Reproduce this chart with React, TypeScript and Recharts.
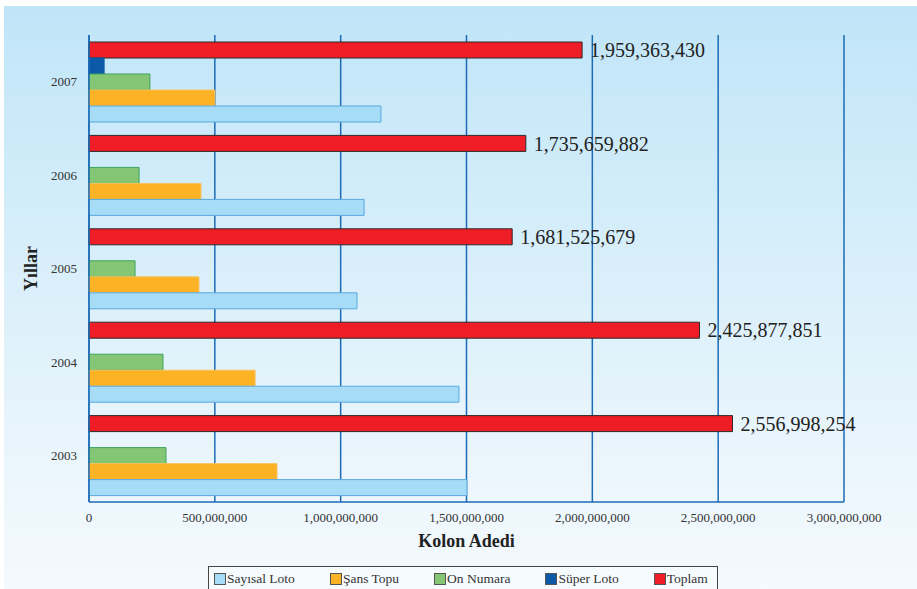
import { BarChart, Bar, XAxis, YAxis, CartesianGrid, LabelList } from "recharts";

const years = ["2007", "2006", "2005", "2004", "2003"];
const sayisalLoto = [1160e6, 1093e6, 1065e6, 1470e6, 1502e6];
const sansTopu = [500e6, 445e6, 437e6, 660e6, 747e6];
const onNumara = [242e6, 199e6, 183e6, 294e6, 306e6];
const superLoto = [60e6, 0, 0, 0, 0];
const toplam = [1959363430, 1735659882, 1681525679, 2425877851, 2556998254];
const xTicks = [0, 5e8, 1e9, 1.5e9, 2e9, 2.5e9, 3e9];

const data = years.map((y, i) => ({
  year: y,
  sayisal: sayisalLoto[i],
  sans: sansTopu[i],
  onNumara: onNumara[i],
  superLoto: superLoto[i],
  toplam: toplam[i],
}));

const series = [
  { key: "sayisal", name: "Sayısal Loto", fill: "#a6dcf6", stroke: "#5aa8de" },
  { key: "sans", name: "Şans Topu", fill: "#fbb225", stroke: "#f7c461" },
  { key: "onNumara", name: "On Numara", fill: "#85c674", stroke: "#3ea25c" },
  { key: "superLoto", name: "Süper Loto", fill: "#0a5aa8", stroke: "#0a5aa8" },
  { key: "toplam", name: "Toplam", fill: "#ee1d26", stroke: "#2b2b2b" },
];

const serif = '"Liberation Serif", "Times New Roman", serif';
const gridBlue = "#1c6bb6";
const fmt = (v: number) => Number(v).toLocaleString("en-US");

export default function App() {
  // bars are placed top-down in the band, so draw in reverse legend order
  const drawOrder = [...series].reverse();
  return (
    <div
      style={{
        position: "fixed",
        left: 0,
        top: 0,
        width: 917,
        height: 589,
        background: "#fff",
        overflow: "hidden",
        fontFamily: serif,
      }}
    >
      <div
        style={{
          position: "absolute",
          left: 4,
          top: 6,
          right: 0,
          bottom: 0,
          background: "linear-gradient(180deg, #c0e5f8 0%, #d6eefa 40%, #e9f5fc 75%, #f4fafd 100%)",
        }}
      />
      <div style={{ position: "absolute", left: 0, top: 0 }}>
        <BarChart
          width={917}
          height={589}
          data={data}
          layout="vertical"
          margin={{ top: 35, right: 73, bottom: 57, left: 29 }}
          barSize={16}
          barGap={0}
          style={{ fontFamily: serif }}
        >
          <CartesianGrid horizontal={false} stroke={gridBlue} strokeWidth={1.5} />
          <XAxis
            type="number"
            domain={[0, 3e9]}
            ticks={xTicks}
            tickFormatter={fmt}
            axisLine={{ stroke: gridBlue, strokeWidth: 1.5 }}
            tickLine={false}
            tickMargin={5}
            tick={{ fill: "#333", fontSize: 13, fontFamily: serif }}
            label={{
              value: "Kolon Adedi",
              position: "bottom",
              offset: 2,
              fill: "#222",
              fontSize: 18,
              fontWeight: "bold",
              fontFamily: serif,
            }}
          />
          <YAxis
            type="category"
            dataKey="year"
            width={60}
            axisLine={{ stroke: gridBlue, strokeWidth: 1.5 }}
            tickLine={false}
            tickMargin={6}
            tick={{ fill: "#333", fontSize: 13, fontFamily: serif }}
            label={{
              value: "Yıllar",
              angle: -90,
              position: "insideLeft",
              offset: 2,
              textAnchor: "middle",
              style: { textAnchor: "middle" },
              fill: "#222",
              fontSize: 18,
              fontWeight: "bold",
              fontFamily: serif,
            }}
          />
          {drawOrder.map((s) => (
            <Bar
              key={s.key}
              dataKey={s.key}
              name={s.name}
              fill={s.fill}
              stroke={s.stroke}
              strokeWidth={1}
              isAnimationActive={false}
            >
              {s.key === "toplam" && (
                <LabelList
                  dataKey="toplam"
                  position="right"
                  offset={8}
                  formatter={(v: any) => fmt(v)}
                  fill="#222"
                  fontSize={20}
                  fontFamily={serif}
                />
              )}
            </Bar>
          ))}
        </BarChart>
      </div>
      <div
        style={{
          position: "absolute",
          left: 208,
          top: 566,
          width: 510,
          height: 26,
          border: "1px solid #444",
          background: "#f6fbfe",
          display: "flex",
          alignItems: "center",
          paddingLeft: 5,
          gap: 35,
          fontSize: 13.5,
          fontFamily: serif,
          color: "#333",
          boxSizing: "border-box",
        }}
      >
        {series.map((s) => (
          <div key={s.key} style={{ display: "flex", alignItems: "center", whiteSpace: "nowrap" }}>
            <span
              style={{
                display: "inline-block",
                width: 10,
                height: 10,
                background: s.fill,
                border: "1px solid #555",
                marginRight: 1,
              }}
            />
            {s.name}
          </div>
        ))}
      </div>
    </div>
  );
}
